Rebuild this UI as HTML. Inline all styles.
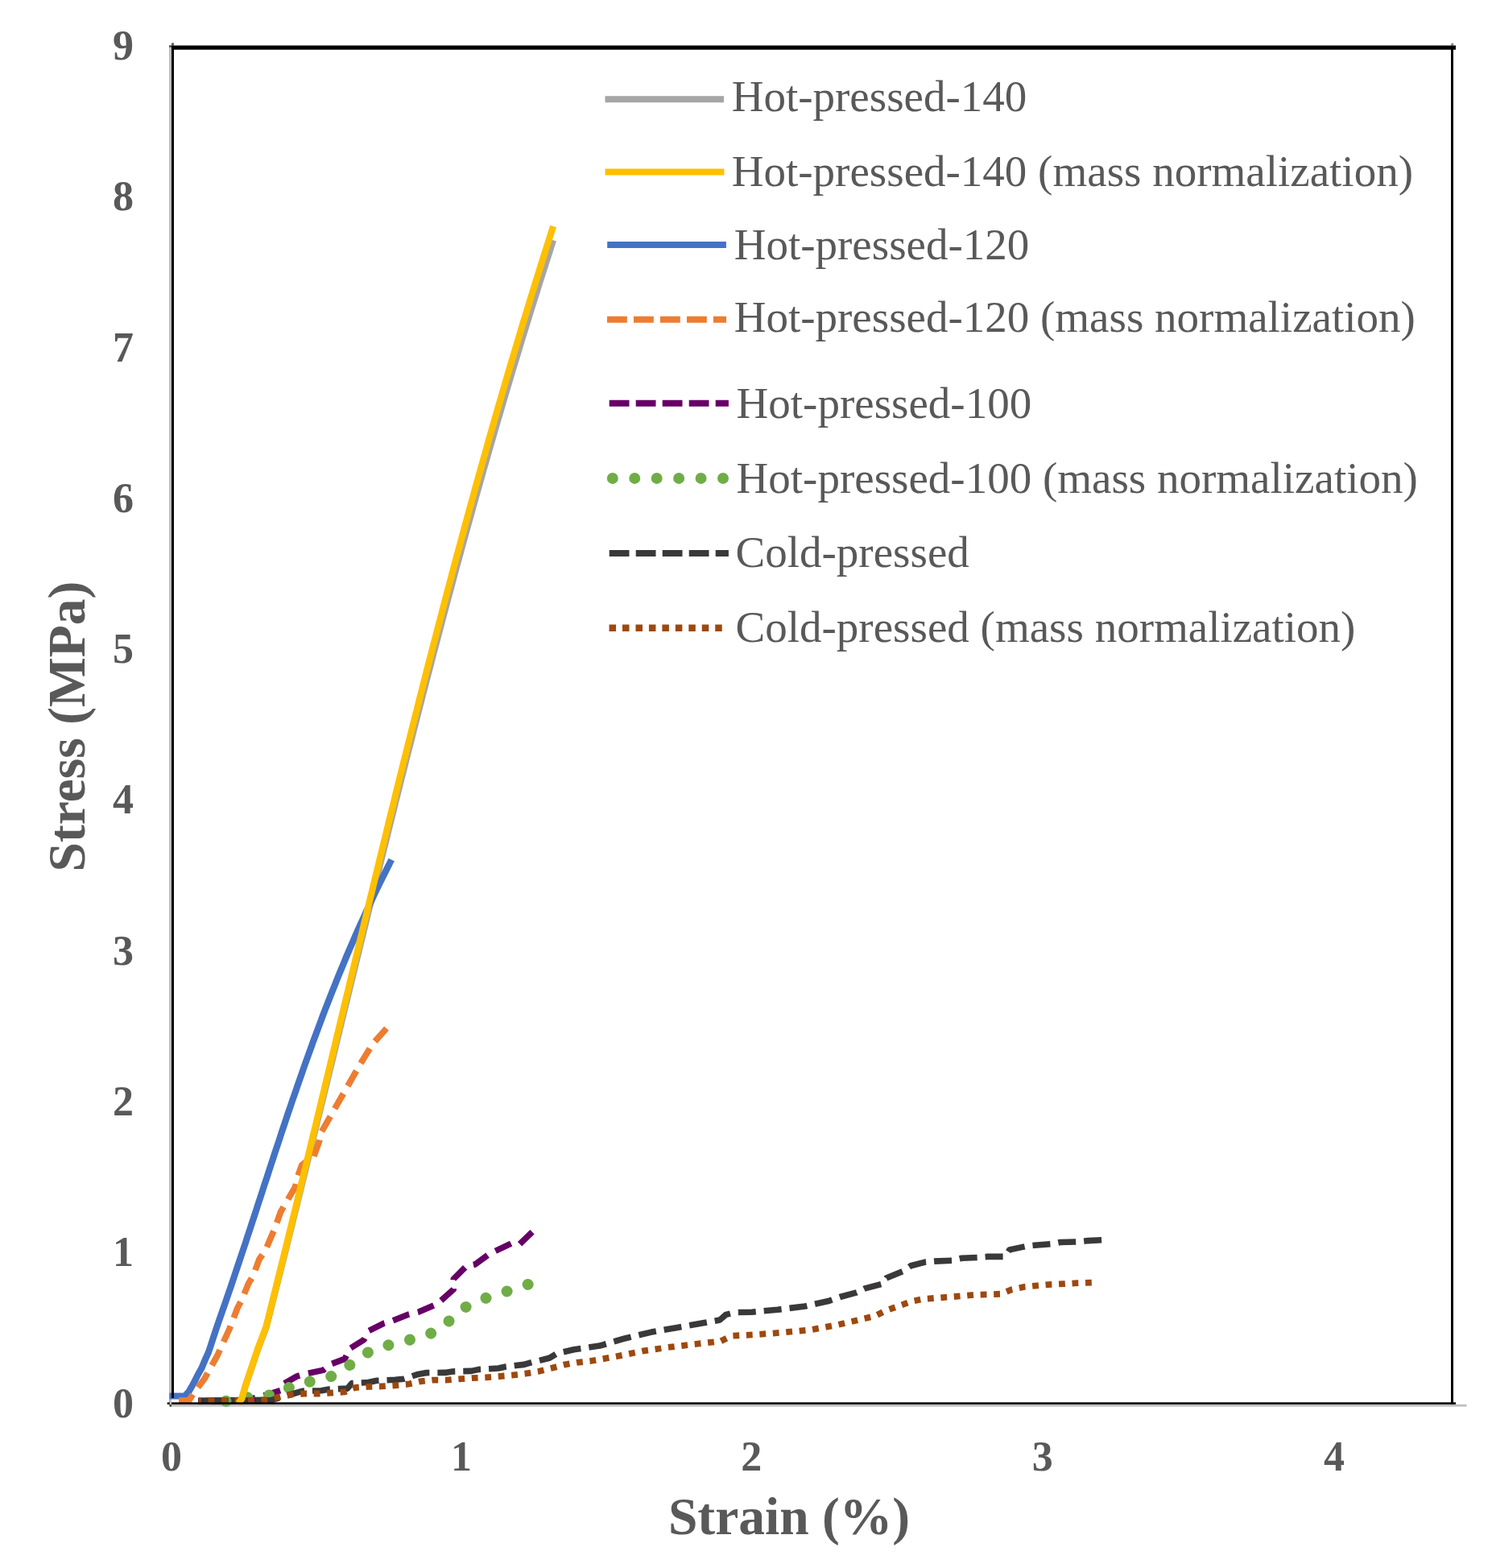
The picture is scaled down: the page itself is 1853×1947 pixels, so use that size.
<!DOCTYPE html>
<html><head><meta charset="utf-8"><title>Stress-strain chart</title>
<style>
html,body{margin:0;padding:0;background:#fff;overflow:hidden;}
svg{display:block;}
.tk{font-family:"Liberation Serif","Times New Roman",serif;font-weight:bold;font-size:52px;fill:#595959;}
.lg{font-family:"Liberation Serif","Times New Roman",serif;font-size:55px;fill:#595959;}
.at{font-family:"Liberation Serif","Times New Roman",serif;font-weight:bold;font-size:65.5px;fill:#595959;}
</style></head>
<body>
<svg width="1853" height="1947" viewBox="0 0 1853 1947">
<rect x="0" y="0" width="1853" height="1947" fill="#fff"/>
<!-- axis lines (gray) -->
<rect x="210" y="56" width="3" height="1690" fill="#BFBFBF"/>
<rect x="210" y="1743.8" width="1611.5" height="2.8" fill="#BFBFBF"/>
<path d="M296.0,1742.5 L300.5,1736.6 L305.0,1720.3 L310.5,1704.3 L320.6,1674.4 L330.6,1648.2 L332.6,1640.3 L334.6,1632.4 L336.6,1624.4 L338.6,1616.5 L340.6,1608.5 L342.6,1600.6 L344.6,1592.7 L346.6,1584.7 L348.6,1576.8 L350.6,1568.8 L352.6,1560.9 L354.6,1553.0 L356.6,1545.0 L358.5,1537.1 L360.5,1529.1 L362.5,1521.2 L364.4,1513.2 L366.4,1505.3 L368.4,1497.4 L370.3,1489.4 L372.3,1481.5 L374.2,1473.5 L376.2,1465.6 L378.1,1457.7 L380.1,1449.7 L382.0,1441.8 L384.0,1433.8 L385.9,1425.9 L387.9,1418.0 L389.8,1410.0 L391.8,1402.1 L393.7,1394.1 L395.6,1386.2 L397.6,1378.3 L399.5,1370.3 L401.5,1362.4 L403.4,1354.4 L405.3,1346.5 L407.3,1338.6 L409.2,1330.6 L411.1,1322.7 L413.1,1314.7 L415.0,1306.8 L416.9,1298.9 L418.8,1290.9 L420.8,1283.0 L422.7,1275.0 L424.6,1267.1 L426.6,1259.1 L428.5,1251.2 L430.4,1243.3 L432.4,1235.3 L434.3,1227.4 L436.2,1219.4 L438.2,1211.5 L440.1,1203.6 L442.0,1195.6 L444.0,1187.7 L445.9,1179.7 L447.8,1171.8 L449.8,1163.9 L451.7,1155.9 L453.7,1148.0 L455.6,1140.0 L457.6,1132.1 L459.5,1124.2 L461.5,1116.2 L463.4,1108.3 L465.4,1100.3 L467.3,1092.4 L469.3,1084.5 L471.2,1076.5 L473.2,1068.6 L475.2,1060.6 L477.1,1052.7 L479.1,1044.8 L481.1,1036.8 L483.0,1028.9 L485.0,1020.9 L487.0,1013.0 L489.0,1005.0 L490.9,997.1 L492.9,989.2 L494.9,981.2 L496.9,973.3 L498.9,965.3 L500.9,957.4 L502.9,949.5 L504.9,941.5 L506.9,933.6 L509.0,925.6 L511.0,917.7 L513.0,909.8 L515.0,901.8 L517.1,893.9 L519.1,885.9 L521.1,878.0 L523.2,870.1 L525.2,862.1 L527.3,854.2 L529.3,846.2 L531.4,838.3 L533.5,830.4 L535.5,822.4 L537.6,814.5 L539.7,806.5 L541.8,798.6 L543.9,790.7 L546.0,782.7 L548.1,774.8 L550.2,766.8 L552.3,758.9 L554.4,750.9 L556.5,743.0 L558.7,735.1 L560.8,727.1 L562.9,719.2 L565.1,711.2 L567.2,703.3 L569.4,695.4 L571.6,687.4 L573.7,679.5 L575.9,671.5 L578.1,663.6 L580.3,655.7 L582.5,647.7 L584.7,639.8 L586.9,631.8 L589.1,623.9 L591.3,616.0 L593.6,608.0 L595.8,600.1 L598.1,592.1 L600.3,584.2 L602.6,576.3 L604.9,568.3 L607.1,560.4 L609.4,552.4 L611.7,544.5 L614.0,536.6 L616.3,528.6 L618.6,520.7 L621.0,512.7 L623.3,504.8 L625.6,496.9 L628.0,488.9 L630.3,481.0 L632.7,473.0 L635.1,465.1 L637.5,457.1 L639.9,449.2 L642.3,441.3 L644.7,433.3 L647.1,425.4 L649.5,417.4 L652.0,409.5 L654.4,401.6 L656.9,393.6 L659.3,385.7 L661.8,377.7 L664.3,369.8 L666.8,361.9 L669.3,353.9 L671.8,346.0 L674.3,338.0 L676.9,330.1 L679.4,322.2 L682.0,314.2 L684.5,306.3 L687.1,298.3" fill="none" stroke="#A5A5A5" stroke-width="8.2" stroke-linecap="butt" stroke-linejoin="round"/>
<path d="M210.4,1733.5 L229.4,1733.5 L234.5,1728.0 L240.1,1718.3 L245.0,1708.6 L250.4,1698.8 L254.5,1689.0 L258.9,1679.3 L262.0,1670.0 L265.3,1659.8 L269.2,1648.0 L272.0,1639.9 L274.8,1631.9 L277.6,1623.8 L280.4,1615.8 L283.2,1607.7 L286.0,1599.6 L288.7,1591.6 L291.4,1583.5 L294.1,1575.4 L296.8,1567.4 L299.5,1559.3 L302.2,1551.2 L304.9,1543.2 L307.5,1535.1 L310.2,1527.1 L312.8,1519.0 L315.5,1510.9 L318.1,1502.9 L320.7,1494.8 L323.4,1486.8 L326.0,1478.7 L328.6,1470.6 L331.3,1462.6 L333.9,1454.5 L336.5,1446.4 L339.2,1438.4 L341.8,1430.3 L344.5,1422.2 L347.2,1414.2 L349.8,1406.1 L352.5,1398.1 L355.2,1390.0 L357.9,1381.9 L360.7,1373.9 L363.4,1365.8 L366.2,1357.8 L369.0,1349.7 L371.8,1341.6 L374.6,1333.6 L377.4,1325.5 L380.3,1317.4 L383.2,1309.4 L386.1,1301.3 L389.0,1293.2 L392.0,1285.2 L395.0,1277.1 L398.0,1269.1 L401.0,1261.0 L404.1,1252.9 L407.2,1244.9 L410.4,1236.8 L413.6,1228.8 L416.8,1220.7 L420.0,1212.6 L423.3,1204.6 L426.7,1196.5 L430.0,1188.4 L433.4,1180.4 L436.9,1172.3 L440.4,1164.2 L443.9,1156.2 L447.5,1148.1 L451.2,1140.1 L454.9,1132.0 L458.6,1123.9 L462.4,1115.9 L466.2,1107.8 L470.1,1099.8 L474.1,1091.7 L478.1,1083.6 L482.1,1075.6 L486.2,1067.5" fill="none" stroke="#4472C4" stroke-width="8.2" stroke-linecap="butt" stroke-linejoin="round"/>
<path d="M210.4,1739.0 L234.8,1739.0 L240.0,1730.5 L254.0,1712.0 L270.0,1683.0 L285.0,1650.0 L295.0,1624.0 L300.5,1613.7 L308.6,1593.7 L314.5,1584.0 L322.0,1563.5 L329.6,1552.7 L337.0,1535.2 L341.4,1525.2 L348.5,1505.0 L356.0,1492.0 L366.7,1473.7 L370.0,1460.0 L374.8,1446.7 L382.0,1441.0 L389.4,1437.0 L396.9,1416.0 L399.0,1406.0 L415.0,1378.0 L431.0,1350.0 L447.0,1322.0 L463.0,1296.0 L480.0,1277.0" fill="none" stroke="#ED7D31" stroke-width="7.8" stroke-linecap="butt" stroke-linejoin="round" stroke-dasharray="21.5 11" stroke-dashoffset="20.91"/>
<path d="M246.0,1739.5 L337.0,1738.6" fill="none" stroke="#3A3838" stroke-width="8.2" stroke-linecap="butt" stroke-linejoin="round"/>
<path d="M247.0,1740.0 L300.0,1739.5 L320.0,1735.0 L332.2,1731.6 L349.4,1726.2 L351.6,1718.7 L368.9,1708.9 L380.7,1705.7 L401.2,1701.4 L411.0,1693.8 L428.2,1687.4 L434.7,1674.4 L452.0,1663.6 L457.4,1652.8 L476.8,1643.1 L487.6,1639.9 L507.0,1632.3 L520.0,1629.1 L538.8,1620.9 L546.9,1615.7 L563.3,1601.0 L563.3,1588.1 L578.9,1572.5 L590.1,1570.0 L606.5,1557.9 L615.1,1553.5 L635.0,1544.0 L645.4,1544.9 L661.0,1529.8" fill="none" stroke="#660066" stroke-width="7.6" stroke-linecap="butt" stroke-linejoin="round" stroke-dasharray="21.5 11" stroke-dashoffset="16.16"/>
<path d="M255.0,1739.5 L290.0,1740.0 L318.3,1732.3 L344.0,1732.7 L365.6,1718.7 L393.1,1714.3 L419.0,1706.8 L440.1,1690.6 L462.8,1675.5 L489.2,1668.5 L515.6,1662.0 L541.4,1653.6 L562.5,1636.4 L581.0,1620.9 L605.6,1611.0 L631.5,1602.8 L656.6,1594.6" fill="none" stroke="#70AD47" stroke-width="14" stroke-linecap="round" stroke-linejoin="round" stroke-dasharray="0.01 27.39" stroke-dashoffset="1.87"/>
<path d="M247.0,1739.5 L336.0,1738.8 L349.4,1734.9 L375.3,1727.3 L399.1,1726.8 L408.8,1725.1 L431.5,1724.1 L436.9,1717.6 L457.4,1716.5 L468.2,1714.3 L490.8,1713.3 L501.6,1712.2 L517.8,1706.8 L530.0,1704.6 L552.8,1704.4 L562.2,1703.0 L585.5,1702.4 L594.9,1700.4 L618.9,1699.0 L628.3,1697.0 L651.0,1694.4 L660.3,1691.7 L682.4,1686.3 L691.9,1680.6 L712.7,1675.8 L744.8,1671.1 L776.9,1661.7 L809.0,1654.1 L841.1,1648.4 L873.2,1642.8 L894.0,1639.0 L901.6,1632.4 L912.9,1629.6 L933.7,1629.2 L965.8,1626.2 L999.8,1622.0 L1030.0,1615.2 L1043.2,1610.5 L1064.0,1604.8 L1073.4,1600.1 L1095.2,1594.4 L1100.8,1586.9 L1121.6,1578.4 L1131.1,1571.8 L1149.0,1567.1 L1160.3,1566.1 L1183.0,1565.2 L1194.3,1562.3 L1216.1,1561.4 L1226.5,1560.4 L1248.2,1560.4 L1253.8,1551.9 L1275.6,1547.2 L1285.0,1546.3 L1307.7,1544.4 L1317.1,1542.5 L1340.7,1541.9 L1351.1,1540.6 L1368.1,1539.7" fill="none" stroke="#3A3838" stroke-width="7.6" stroke-linecap="butt" stroke-linejoin="round" stroke-dasharray="22 10" stroke-dashoffset="17.34"/>
<path d="M247.0,1739.5 L333.2,1738.3 L349.4,1733.8 L362.4,1731.6 L378.6,1730.5 L395.8,1730.5 L412.0,1729.5 L428.2,1728.4 L441.2,1723.0 L457.4,1721.9 L474.1,1721.4 L490.3,1720.3 L507.0,1718.7 L521.6,1715.4 L537.4,1713.7 L553.5,1713.7 L570.2,1712.4 L586.2,1711.1 L602.9,1710.4 L619.6,1709.1 L635.6,1707.7 L652.3,1705.7 L668.4,1703.0 L684.4,1699.0 L700.4,1694.7 L716.4,1691.9 L733.4,1690.0 L765.6,1684.3 L797.7,1677.7 L829.8,1673.0 L861.9,1669.2 L895.0,1665.4 L908.2,1658.8 L941.2,1657.0 L973.3,1654.5 L1006.4,1651.3 L1038.5,1645.4 L1054.6,1641.7 L1070.6,1637.9 L1086.7,1634.1 L1099.9,1627.5 L1115.9,1621.8 L1131.1,1616.2 L1146.2,1613.0 L1162.2,1611.8 L1178.3,1610.5 L1195.3,1609.2 L1211.3,1607.7 L1227.4,1607.3 L1243.4,1606.7 L1256.7,1601.1 L1272.7,1597.8 L1288.8,1596.3 L1305.8,1594.8 L1321.8,1594.1 L1338.8,1593.1 L1355.8,1592.6" fill="none" stroke="#9E480E" stroke-width="7.8" stroke-linecap="butt" stroke-linejoin="round" stroke-dasharray="7.8 8.7" stroke-dashoffset="4.98"/>
<path d="M296.0,1742.5 L300.5,1736.5 L305.0,1720.0 L310.5,1703.8 L320.6,1673.6 L330.6,1647.1 L332.6,1639.1 L334.6,1631.0 L336.6,1623.0 L338.6,1615.0 L340.6,1606.9 L342.6,1598.9 L344.6,1590.8 L346.6,1582.8 L348.6,1574.8 L350.6,1566.7 L352.6,1558.7 L354.6,1550.7 L356.6,1542.6 L358.5,1534.6 L360.5,1526.6 L362.5,1518.5 L364.4,1510.5 L366.4,1502.5 L368.4,1494.4 L370.3,1486.4 L372.3,1478.3 L374.2,1470.3 L376.2,1462.3 L378.1,1454.2 L380.1,1446.2 L382.0,1438.2 L384.0,1430.1 L385.9,1422.1 L387.9,1414.1 L389.8,1406.0 L391.8,1398.0 L393.7,1390.0 L395.6,1381.9 L397.6,1373.9 L399.5,1365.8 L401.5,1357.8 L403.4,1349.8 L405.3,1341.7 L407.3,1333.7 L409.2,1325.7 L411.1,1317.6 L413.1,1309.6 L415.0,1301.6 L416.9,1293.5 L418.8,1285.5 L420.8,1277.4 L422.7,1269.4 L424.6,1261.4 L426.6,1253.3 L428.5,1245.3 L430.4,1237.3 L432.4,1229.2 L434.3,1221.2 L436.2,1213.2 L438.2,1205.1 L440.1,1197.1 L442.0,1189.1 L444.0,1181.0 L445.9,1173.0 L447.8,1164.9 L449.8,1156.9 L451.7,1148.9 L453.7,1140.8 L455.6,1132.8 L457.6,1124.8 L459.5,1116.7 L461.5,1108.7 L463.4,1100.7 L465.4,1092.6 L467.3,1084.6 L469.3,1076.6 L471.2,1068.5 L473.2,1060.5 L475.2,1052.4 L477.1,1044.4 L479.1,1036.4 L481.1,1028.3 L483.0,1020.3 L485.0,1012.3 L487.0,1004.2 L489.0,996.2 L490.9,988.2 L492.9,980.1 L494.9,972.1 L496.9,964.0 L498.9,956.0 L500.9,948.0 L502.9,939.9 L504.9,931.9 L506.9,923.9 L509.0,915.8 L511.0,907.8 L513.0,899.8 L515.0,891.7 L517.1,883.7 L519.1,875.7 L521.1,867.6 L523.2,859.6 L525.2,851.5 L527.3,843.5 L529.3,835.5 L531.4,827.4 L533.5,819.4 L535.5,811.4 L537.6,803.3 L539.7,795.3 L541.8,787.3 L543.9,779.2 L546.0,771.2 L548.1,763.2 L550.2,755.1 L552.3,747.1 L554.4,739.0 L556.5,731.0 L558.7,723.0 L560.8,714.9 L562.9,706.9 L565.1,698.9 L567.2,690.8 L569.4,682.8 L571.6,674.8 L573.7,666.7 L575.9,658.7 L578.1,650.7 L580.3,642.6 L582.5,634.6 L584.7,626.5 L586.9,618.5 L589.1,610.5 L591.3,602.4 L593.6,594.4 L595.8,586.4 L598.1,578.3 L600.3,570.3 L602.6,562.3 L604.9,554.2 L607.1,546.2 L609.4,538.1 L611.7,530.1 L614.0,522.1 L616.3,514.0 L618.6,506.0 L621.0,498.0 L623.3,489.9 L625.6,481.9 L628.0,473.9 L630.3,465.8 L632.7,457.8 L635.1,449.8 L637.5,441.7 L639.9,433.7 L642.3,425.6 L644.7,417.6 L647.1,409.6 L649.5,401.5 L652.0,393.5 L654.4,385.5 L656.9,377.4 L659.3,369.4 L661.8,361.4 L664.3,353.3 L666.8,345.3 L669.3,337.3 L671.8,329.2 L674.3,321.2 L676.9,313.1 L679.4,305.1 L682.0,297.1 L684.5,289.0 L687.1,281.0" fill="none" stroke="#FFC000" stroke-width="8.2" stroke-linecap="butt" stroke-linejoin="round"/>
<!-- plot border -->
<rect x="213" y="56.5" width="1595" height="5.2" fill="#000"/>
<rect x="213" y="56.5" width="3" height="1679.5" fill="#000"/>
<rect x="1802" y="56.5" width="3" height="1687" fill="#000"/>
<rect x="213" y="1741.3" width="1595" height="2.5" fill="#000"/>
<rect x="207.7" y="1741.4" width="3" height="2.4" fill="#000"/>
<rect x="210.6" y="1744" width="2.4" height="2.6" fill="#404040"/>
<rect x="1802.3" y="53.6" width="2.8" height="2.8" fill="#808080"/>
<rect x="213" y="53.3" width="3" height="3" fill="#606060"/>
<rect x="210" y="56.3" width="3" height="2.4" fill="#555"/>
<line x1="751.5" y1="123.2" x2="899" y2="123.2" stroke="#A5A5A5" stroke-width="8" stroke-linecap="butt"/>
<text x="908.7" y="138" class="lg">Hot-pressed-140</text>
<line x1="751.5" y1="213.6" x2="899.4" y2="213.6" stroke="#FFC000" stroke-width="8" stroke-linecap="butt"/>
<text x="908.8" y="231.3" class="lg">Hot-pressed-140 (mass normalization)</text>
<line x1="754.2" y1="303.9" x2="901.9" y2="303.9" stroke="#4472C4" stroke-width="8" stroke-linecap="butt"/>
<text x="911.7" y="321.8" class="lg">Hot-pressed-120</text>
<line x1="754" y1="396.8" x2="902" y2="396.8" stroke="#ED7D31" stroke-width="8" stroke-linecap="butt" stroke-dasharray="24.8 8.2"/>
<text x="911.7" y="411.8" class="lg">Hot-pressed-120 (mass normalization)</text>
<line x1="756.7" y1="500.8" x2="904.9" y2="500.8" stroke="#660066" stroke-width="8" stroke-linecap="butt" stroke-dasharray="24.8 8.2"/>
<text x="914.6" y="518.6" class="lg">Hot-pressed-100</text>
<line x1="760.8" y1="593.9" x2="898.1" y2="593.9" stroke="#70AD47" stroke-width="14" stroke-linecap="round" stroke-dasharray="0 27.44"/>
<text x="914.6" y="611.8" class="lg">Hot-pressed-100 (mass normalization)</text>
<line x1="756.7" y1="686.9" x2="904.9" y2="686.9" stroke="#3A3838" stroke-width="8" stroke-linecap="butt" stroke-dasharray="24.8 8.2"/>
<text x="913.6" y="703.7" class="lg">Cold-pressed</text>
<line x1="756.55" y1="779.8" x2="896.8" y2="779.8" stroke="#9E480E" stroke-width="8.5" stroke-linecap="butt" stroke-dasharray="8.5 7.96"/>
<text x="913.6" y="796.9" class="lg">Cold-pressed (mass normalization)</text>
<text x="166" y="1759.5" class="tk" text-anchor="end">0</text>
<text x="166" y="1572.2" class="tk" text-anchor="end">1</text>
<text x="166" y="1385.0" class="tk" text-anchor="end">2</text>
<text x="166" y="1197.7" class="tk" text-anchor="end">3</text>
<text x="166" y="1010.4" class="tk" text-anchor="end">4</text>
<text x="166" y="823.1" class="tk" text-anchor="end">5</text>
<text x="166" y="635.9" class="tk" text-anchor="end">6</text>
<text x="166" y="448.6" class="tk" text-anchor="end">7</text>
<text x="166" y="261.3" class="tk" text-anchor="end">8</text>
<text x="166" y="74.1" class="tk" text-anchor="end">9</text>
<text x="213.1" y="1826" class="tk" text-anchor="middle">0</text>
<text x="572.9" y="1826" class="tk" text-anchor="middle">1</text>
<text x="933.2" y="1826" class="tk" text-anchor="middle">2</text>
<text x="1294.7" y="1826" class="tk" text-anchor="middle">3</text>
<text x="1656.9" y="1826" class="tk" text-anchor="middle">4</text>
<text x="980" y="1905" class="at" text-anchor="middle">Strain (%)</text>
<text transform="translate(105.2,902) rotate(-90)" x="0" y="0" class="at" text-anchor="middle">Stress (MPa)</text>
</svg>
</body></html>
